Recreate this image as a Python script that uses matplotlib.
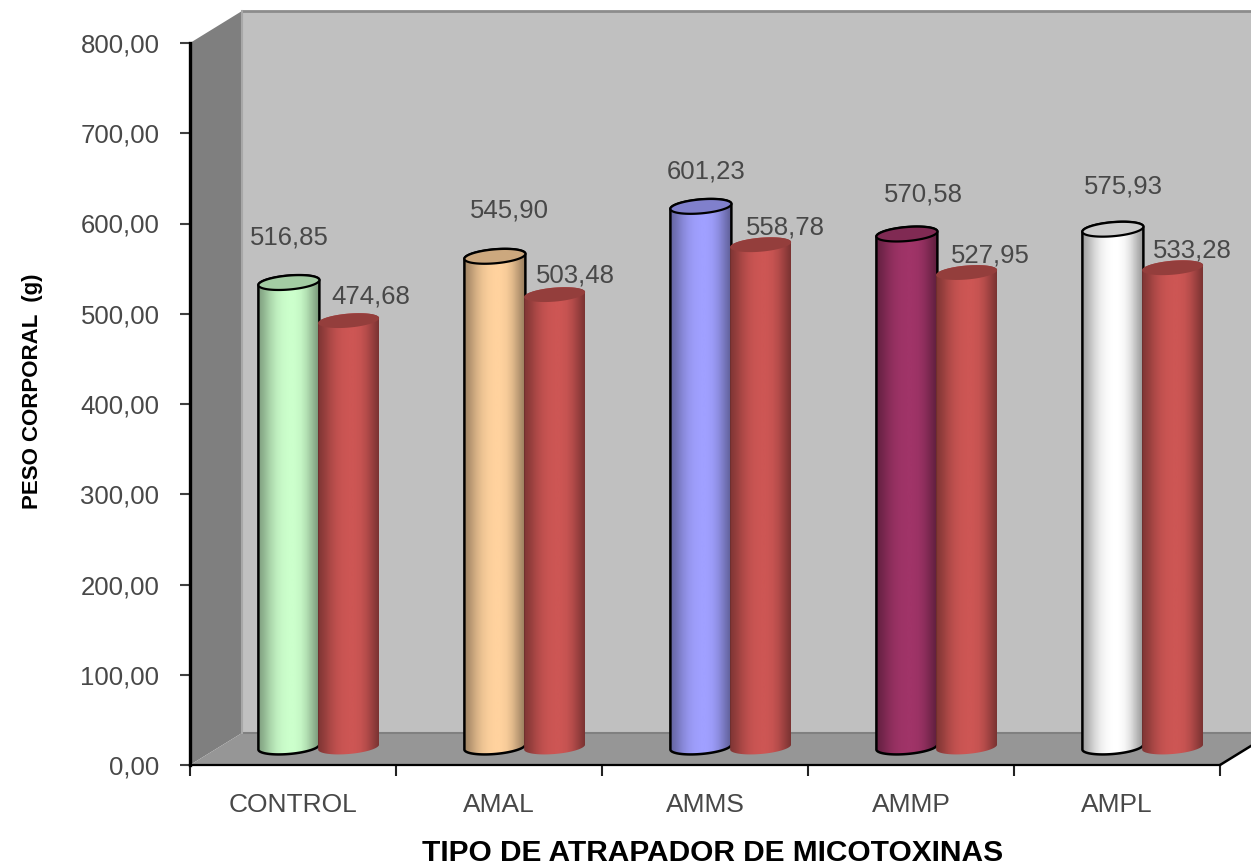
import matplotlib
matplotlib.use('Agg')
import matplotlib.pyplot as plt
from matplotlib.colors import to_rgb
from matplotlib.patches import Polygon
import numpy as np

plt.rcParams['font.family'] = ['Liberation Sans', 'DejaVu Sans']

categories = ['CONTROL', 'AMAL', 'AMMS', 'AMMP', 'AMPL']
tratamiento = [516.85, 545.90, 601.23, 570.58, 575.93]
segunda_serie = [474.68, 503.48, 558.78, 527.95, 533.28]
y_ticks = [0, 100, 200, 300, 400, 500, 600, 700, 800]

colores = ['#CCFFCC', '#FFD29E', '#A0A0FF', '#A03468', '#FFFFFF']
rojo = '#CD5654'

# label offsets from the top of each cylinder, in pixels
offset_a = [(0, 45), (15, 46), (5, 35), (17, 40), (11, 43)]
offset_b = [(22, 24), (21, 19), (25, 17), (24, 17), (20, 17)]

W, H = 1251, 867
fig = plt.figure(figsize=(W / 100, H / 100), dpi=100, facecolor='white')
# axes box is the front plane of the 3D chart
ax = fig.add_axes([190 / W, (H - 765) / H, 1030 / W, 722 / H])
ax.set_facecolor('none')

px_x = 5 / 1030
px_y = 800 / 722
dx = 52 * px_x
dy = 32 * px_y


def wall(pts, color, z=0):
    ax.add_patch(Polygon(pts, closed=True, facecolor=color, edgecolor='none',
                         clip_on=False, zorder=z))


# back wall, side wall, floor
wall([(dx, dy), (5 + dx, dy), (5 + dx, 800 + dy), (dx, 800 + dy)], '#C0C0C0')
wall([(0, 0), (dx, dy), (dx, 800 + dy), (0, 800)], '#7F7F7F')
wall([(0, 0), (5, 0), (5 + dx, dy), (dx, dy)], '#969696')
ax.plot([dx, 5 + dx], [800 + dy, 800 + dy], color='#8C8C8C', lw=2, clip_on=False, zorder=1)
ax.plot([dx, 5 + dx], [dy, dy], color='#808080', lw=1.5, clip_on=False, zorder=1)
ax.plot([dx, dx], [dy, 800 + dy], color='#A8A8A8', lw=1.5, clip_on=False, zorder=1)
ax.plot([5, 5 + dx], [0, dy], color='black', lw=1.8, clip_on=False, zorder=1)

bar_w = 61 * px_x
rx = bar_w / 2
ry = 7 * px_y
tilt = 2.5 * px_y
y_base = 16 * px_y
y_floor = 18 * px_y
t = np.linspace(0, 2 * np.pi, 100)
shade = np.array([0.62, 0.72, 0.84, 0.93, 0.98, 1.0, 1.0, 0.97, 0.88, 0.74, 0.6])


def cylinder(xc, value, color, edge, cap, z):
    rgb = np.array(to_rgb(color))
    grad = np.interp(np.linspace(0, 1, 80), np.linspace(0, 1, len(shade)), shade)
    img = (grad[:, None] * rgb[None, :])[None, :, :]
    top = value + y_base
    ex = xc + rx * np.cos(t)
    low = np.sin(t) * ry + tilt * np.cos(t)
    lower = t >= np.pi
    # body: bottom half of base ellipse then the top ellipse's far side
    body_x = np.concatenate([ex[lower], ex[~lower]])
    body_y = np.concatenate([y_floor + low[lower], top + low[~lower]])
    body = Polygon(np.column_stack([body_x, body_y]), closed=True, transform=ax.transData,
                   facecolor='none', edgecolor='none')
    ax.add_patch(body)
    im = ax.imshow(img, extent=[xc - rx, xc + rx, y_floor - ry * 1.5, top + ry * 1.5],
                   aspect='auto', zorder=z, interpolation='bilinear')
    im.set_clip_path(body)
    body.set_zorder(z)
    ax.add_patch(Polygon(np.column_stack([ex, top + low]), closed=True,
                         facecolor=rgb * cap, edgecolor=edge, lw=1.6,
                         zorder=z + 0.2, clip_on=False))
    if edge != 'none':
        ax.add_patch(Polygon(np.column_stack([body_x, body_y]), closed=True,
                             facecolor='none', edgecolor=edge, lw=1.8,
                             zorder=z + 0.1, clip_on=False))


for i, cat in enumerate(categories):
    x_a = i + 0.48
    x_b = i + 0.77
    cylinder(x_a, tratamiento[i], colores[i], 'black', 0.8, 3 + i)
    cylinder(x_b, segunda_serie[i], rojo, 'none', 0.72, 3.5 + i)
    ox, oy = offset_a[i]
    ax.annotate(f'{tratamiento[i]:.2f}'.replace('.', ','),
                (x_a, tratamiento[i] + y_base), xytext=(ox * 0.72, oy * 0.72),
                textcoords='offset points', ha='center', va='center',
                fontsize=18.5, color='#484848', zorder=20, annotation_clip=False)
    ox, oy = offset_b[i]
    ax.annotate(f'{segunda_serie[i]:.2f}'.replace('.', ','),
                (x_b, segunda_serie[i] + y_base), xytext=(ox * 0.72, oy * 0.72),
                textcoords='offset points', ha='center', va='center',
                fontsize=18.5, color='#484848', zorder=20, annotation_clip=False)

ax.set_xlim(0, 5)
ax.set_ylim(0, 800)
ax.set_yticks(y_ticks)
ax.set_yticklabels([f'{v:.2f}'.replace('.', ',') for v in y_ticks])
ax.set_xticks(range(6))
ax.set_xticklabels([])
ax.set_xticks(np.arange(5) + 0.5, minor=True)
ax.set_xticklabels(categories, minor=True)
ax.tick_params(axis='x', which='minor', length=0, pad=20, labelsize=19, labelcolor='#484848')
ax.tick_params(axis='x', which='major', length=8, width=1.5, color='#222222')
ax.tick_params(axis='y', length=7, width=1.5, color='#404040', pad=15,
               labelsize=18.5, labelcolor='#484848')

for name in ['top', 'right']:
    ax.spines[name].set_visible(False)
ax.spines['left'].set_linewidth(2.4)
ax.spines['bottom'].set_linewidth(1.6)
ax.spines['left'].set_zorder(30)
ax.spines['bottom'].set_zorder(2)

fig.text(713 / W, (H - 853) / H, 'TIPO DE ATRAPADOR DE MICOTOXINAS', ha='center', va='center',
         fontsize=21.5, fontweight='bold', color='black')
fig.text(33 / W, (H - 391) / H, 'PESO CORPORAL  (g)', rotation=90, ha='center', va='center',
         fontsize=16, fontweight='bold', color='black')

fig.savefig('out.png', dpi=100)
